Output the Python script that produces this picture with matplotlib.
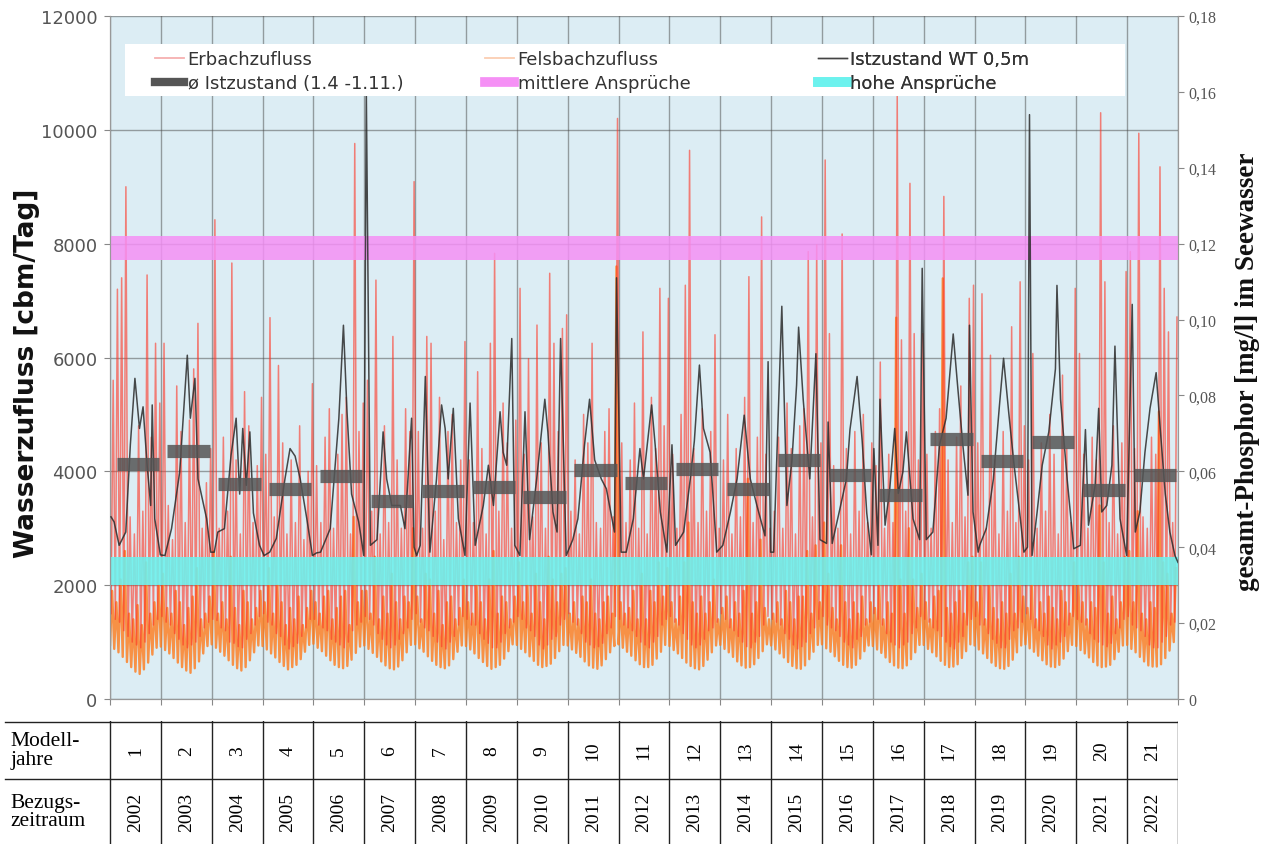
import numpy as np
import matplotlib
matplotlib.use('Agg')
import matplotlib.pyplot as plt
from matplotlib.lines import Line2D
from matplotlib.patches import Rectangle
from matplotlib.ticker import FuncFormatter, MultipleLocator

# model years and reference years
model_years = list(range(1, 22))
ref_years = list(range(2002, 2023))

# Erbach inflow [cbm/Tag], monthly troughs and peaks per year
erbach_lows = [
    [1500, 1400, 1350, 1200, 1100, 1000, 950, 900, 1000, 1150, 1300, 1400],
    [1450, 1350, 1300, 1150, 1050, 950, 900, 950, 1000, 1100, 1250, 1350],
    [1400, 1380, 1250, 1200, 1000, 980, 920, 900, 1050, 1150, 1300, 1450],
    [1500, 1350, 1300, 1150, 1100, 950, 880, 920, 980, 1100, 1250, 1400],
    [1400, 1300, 1250, 1200, 1050, 1000, 950, 900, 1000, 1200, 1300, 1350],
    [1450, 1400, 1300, 1150, 1050, 950, 900, 950, 1050, 1150, 1250, 1400],
    [1500, 1350, 1250, 1200, 1100, 1000, 920, 880, 1000, 1100, 1300, 1450],
    [1400, 1300, 1300, 1150, 1050, 980, 900, 900, 1000, 1150, 1250, 1350],
    [1450, 1400, 1250, 1200, 1100, 950, 880, 950, 1050, 1100, 1300, 1400],
    [1500, 1350, 1300, 1150, 1000, 950, 900, 920, 980, 1150, 1250, 1450],
    [1400, 1300, 1250, 1200, 1100, 1000, 950, 900, 1000, 1100, 1300, 1400],
    [1450, 1350, 1300, 1150, 1050, 950, 900, 950, 1050, 1200, 1250, 1350],
    [1500, 1400, 1250, 1200, 1100, 1000, 920, 900, 1000, 1100, 1300, 1450],
    [1400, 1350, 1300, 1150, 1050, 950, 880, 920, 1000, 1150, 1250, 1400],
    [1450, 1300, 1250, 1200, 1100, 1000, 950, 900, 1050, 1100, 1300, 1350],
    [1500, 1400, 1300, 1150, 1000, 950, 900, 950, 1000, 1150, 1250, 1450],
    [1400, 1350, 1250, 1200, 1100, 1000, 920, 880, 1000, 1100, 1300, 1400],
    [1450, 1300, 1300, 1150, 1050, 980, 900, 900, 1050, 1200, 1250, 1350],
    [1500, 1400, 1250, 1200, 1100, 950, 880, 950, 1000, 1100, 1300, 1450],
    [1400, 1350, 1300, 1150, 1050, 1000, 950, 920, 980, 1150, 1250, 1400],
    [1450, 1300, 1250, 1200, 1100, 950, 900, 900, 1000, 1100, 1300, 1350],
]
erbach_peaks = [
    [5600, 7200, 7400, 9000, 3200, 2900, 4800, 3300, 7450, 4600, 6250, 5200],
    [6250, 3400, 2800, 5500, 4700, 3100, 4900, 5800, 6600, 3000, 3800, 4400],
    [8420, 3000, 4600, 3300, 7660, 4200, 2900, 5400, 4800, 3100, 4100, 5300],
    [4300, 6700, 3200, 5860, 4500, 2900, 4200, 3100, 4800, 2800, 4000, 5540],
    [4100, 3100, 4600, 5100, 3000, 4300, 5000, 5300, 2900, 9760, 4700, 5200],
    [5600, 3300, 7360, 2900, 4800, 3100, 6370, 4200, 3000, 5100, 4700, 9090],
    [4700, 3000, 6370, 6250, 3300, 5300, 2800, 4700, 5000, 3100, 4200, 6280],
    [4200, 3100, 5750, 4400, 2900, 6250, 7830, 3300, 5200, 4500, 3000, 4900],
    [7215, 4300, 5980, 3200, 6570, 4500, 3000, 7480, 6250, 4700, 6510, 6750],
    [3300, 4200, 2900, 5000, 4500, 6250, 3100, 3000, 4700, 5100, 3200, 10200],
    [4500, 3100, 4200, 5200, 3000, 6450, 2900, 5300, 4400, 7215, 4800, 7040],
    [4300, 3000, 5000, 7270, 9640, 4400, 3100, 5100, 3300, 4700, 6400, 3000],
    [4200, 5000, 2900, 4400, 3200, 5300, 7420, 3100, 4600, 8470, 4300, 3000],
    [3300, 4600, 3000, 5200, 4400, 2900, 4800, 5100, 7860, 3200, 7980, 4500],
    [9470, 6420, 4100, 3000, 8170, 4400, 2900, 4700, 3300, 5000, 3100, 4500],
    [4100, 5920, 3000, 4300, 3100, 10610, 6310, 3300, 9060, 6420, 4200, 6420],
    [4300, 3000, 4700, 5100, 8830, 4200, 3100, 4600, 5500, 3200, 7040, 7270],
    [4500, 7120, 3000, 6040, 4200, 2900, 4700, 3300, 6540, 3100, 7330, 4800],
    [4200, 6070, 3000, 4500, 3300, 5000, 4300, 2900, 5690, 4400, 3100, 7215],
    [6070, 4300, 3000, 4600, 4200, 10300, 7330, 3100, 4800, 2900, 4500, 7510],
    [7860, 4400, 9940, 3200, 3000, 4600, 4300, 9350, 7215, 6450, 3100, 6710],
]

# Felsbach inflow [cbm/Tag], monthly troughs and peaks per year
felsbach_lows = [
    [950, 880, 820, 740, 650, 560, 480, 440, 520, 640, 780, 900],
    [920, 860, 800, 720, 640, 560, 500, 460, 540, 660, 800, 930],
    [960, 900, 830, 760, 680, 600, 540, 500, 560, 680, 820, 940],
    [930, 870, 800, 730, 650, 580, 520, 560, 600, 700, 830, 950],
    [970, 900, 840, 760, 680, 600, 560, 540, 580, 690, 810, 920],
    [940, 880, 810, 740, 660, 590, 540, 520, 570, 680, 820, 950],
    [960, 890, 830, 750, 670, 600, 560, 540, 590, 700, 830, 940],
    [930, 870, 800, 720, 650, 580, 530, 560, 600, 710, 840, 960],
    [950, 880, 820, 750, 670, 600, 560, 580, 620, 720, 840, 950],
    [940, 870, 810, 740, 660, 590, 550, 530, 590, 700, 820, 930],
    [960, 900, 830, 760, 680, 610, 560, 560, 600, 710, 830, 950],
    [930, 860, 800, 720, 640, 580, 540, 520, 580, 690, 820, 940],
    [950, 880, 820, 740, 660, 590, 550, 560, 610, 720, 840, 960],
    [940, 870, 800, 730, 650, 580, 540, 530, 590, 700, 830, 950],
    [960, 890, 830, 750, 670, 600, 560, 550, 600, 710, 840, 940],
    [930, 870, 810, 730, 650, 590, 550, 540, 590, 700, 820, 950],
    [950, 880, 820, 750, 670, 600, 560, 570, 610, 720, 840, 960],
    [940, 870, 800, 720, 640, 580, 540, 530, 580, 690, 820, 940],
    [960, 890, 830, 760, 680, 610, 570, 560, 600, 710, 840, 950],
    [930, 860, 800, 730, 650, 590, 560, 570, 600, 700, 830, 940],
    [950, 880, 820, 740, 660, 590, 570, 570, 610, 720, 850, 1000],
]
felsbach_peaks = [
    [1900, 1700, 2100, 2600, 1500, 1400, 1650, 1300, 2400, 1500, 1700, 2000],
    [2200, 1600, 1500, 1900, 1700, 1300, 1600, 1800, 2300, 1400, 1500, 1800],
    [2600, 1500, 1700, 1400, 2500, 1600, 1300, 1900, 1700, 1400, 1600, 1900],
    [1700, 2300, 1500, 2000, 1700, 1300, 1600, 1400, 1800, 1300, 1600, 1900],
    [1700, 1500, 1800, 1900, 1400, 1600, 1800, 1900, 1300, 3200, 1700, 1900],
    [1900, 1500, 2500, 1400, 1800, 1500, 2200, 1700, 1400, 1800, 1700, 3000],
    [1800, 1400, 2200, 2100, 1500, 1900, 1300, 1700, 1800, 1400, 1600, 2100],
    [1700, 1500, 2000, 1700, 1400, 2100, 2600, 1500, 1800, 1700, 1400, 1800],
    [2400, 1700, 2000, 1500, 2200, 1700, 1400, 2500, 2100, 1700, 2200, 2300],
    [1500, 1700, 1400, 1800, 1700, 2100, 1500, 1400, 1700, 1800, 1500, 7600],
    [1700, 1500, 1600, 1900, 1400, 2200, 1400, 1900, 1700, 2400, 1800, 2300],
    [1700, 1400, 1800, 2400, 3100, 1700, 1500, 1800, 1500, 1700, 2100, 1400],
    [1600, 1800, 1400, 1700, 1500, 1900, 3870, 1500, 1700, 2800, 1600, 1400],
    [1500, 1700, 1400, 1900, 1700, 1400, 1800, 1800, 2600, 1500, 2700, 1700],
    [3100, 2200, 1600, 1400, 2700, 1700, 1400, 1700, 1500, 1800, 1400, 1700],
    [1600, 2000, 1400, 1700, 1500, 6700, 2100, 1500, 3000, 2100, 1600, 2200],
    [1700, 1400, 1800, 1900, 7390, 1600, 1500, 1700, 1900, 1500, 2400, 2500],
    [1700, 2400, 1400, 2000, 1600, 1400, 1700, 1500, 2200, 1500, 2500, 1800],
    [1600, 2000, 1400, 1700, 1500, 1800, 1600, 1400, 1900, 1700, 1500, 2400],
    [2000, 1700, 1400, 1700, 1600, 3400, 2400, 1500, 1800, 1400, 1700, 2500],
    [2600, 1700, 3300, 1500, 1400, 1700, 1600, 5050, 2400, 2200, 1500, 2300],
]

# Istzustand WT 0,5m [mg/l]: (fraction of model year, value) per year
istzustand = [
    [(0.02, 0.048), (0.08, 0.0467), (0.18, 0.0405), (0.31, 0.044), (0.40, 0.067), (0.49, 0.0845),
     (0.58, 0.0713), (0.65, 0.077), (0.73, 0.0616), (0.80, 0.051), (0.83, 0.0775), (0.88, 0.0475), (0.99, 0.038)],
    [(0.08, 0.0378), (0.21, 0.0449), (0.37, 0.0598), (0.52, 0.0906), (0.58, 0.074), (0.67, 0.0845),
     (0.73, 0.058), (0.90, 0.0475), (0.98, 0.0387)],
    [(0.05, 0.0387), (0.12, 0.044), (0.25, 0.0449), (0.38, 0.0642), (0.48, 0.074), (0.55, 0.054),
     (0.61, 0.0713), (0.68, 0.0563), (0.75, 0.0704), (0.82, 0.049), (0.94, 0.0405)],
    [(0.03, 0.0378), (0.14, 0.0387), (0.27, 0.0423), (0.44, 0.058), (0.54, 0.066), (0.64, 0.064),
     (0.74, 0.058), (0.87, 0.0475), (0.98, 0.0378)],
    [(0.06, 0.0385), (0.14, 0.0387), (0.33, 0.0449), (0.50, 0.074), (0.59, 0.0985), (0.66, 0.0757),
     (0.75, 0.054), (0.89, 0.0467), (0.99, 0.0378)],
    [(0.04, 0.16), (0.12, 0.0405), (0.25, 0.042), (0.37, 0.0704), (0.44, 0.058), (0.54, 0.051),
     (0.71, 0.051), (0.80, 0.0449), (0.93, 0.074), (0.98, 0.040)],
    [(0.03, 0.0378), (0.10, 0.0405), (0.20, 0.085), (0.29, 0.0387), (0.42, 0.058), (0.52, 0.0775),
     (0.59, 0.0713), (0.65, 0.058), (0.75, 0.0766), (0.85, 0.0475), (0.98, 0.0378)],
    [(0.08, 0.078), (0.18, 0.0405), (0.34, 0.051), (0.44, 0.0616), (0.54, 0.051), (0.67, 0.0757),
     (0.73, 0.065), (0.80, 0.0616), (0.90, 0.095), (0.96, 0.0405)],
    [(0.06, 0.0378), (0.16, 0.0757), (0.25, 0.042), (0.39, 0.058), (0.55, 0.079), (0.61, 0.0704),
     (0.71, 0.0493), (0.79, 0.044), (0.86, 0.095), (0.97, 0.0378)],
    [(0.10, 0.042), (0.20, 0.0475), (0.33, 0.0669), (0.43, 0.079), (0.53, 0.063), (0.66, 0.058),
     (0.76, 0.0554), (0.92, 0.044), (0.96, 0.111)],
    [(0.05, 0.0387), (0.15, 0.0387), (0.29, 0.0475), (0.42, 0.066), (0.49, 0.058), (0.65, 0.0775),
     (0.72, 0.0669), (0.82, 0.0493), (0.95, 0.0387)],
    [(0.05, 0.067), (0.12, 0.0405), (0.28, 0.044), (0.41, 0.058), (0.49, 0.068), (0.59, 0.088),
     (0.67, 0.0713), (0.80, 0.065), (0.93, 0.0387)],
    [(0.05, 0.0405), (0.20, 0.0493), (0.33, 0.058), (0.47, 0.0748), (0.59, 0.058), (0.72, 0.051),
     (0.88, 0.043), (0.94, 0.0889), (0.99, 0.0387)],
    [(0.05, 0.0387), (0.21, 0.1035), (0.31, 0.051), (0.41, 0.063), (0.50, 0.0827), (0.54, 0.098),
     (0.63, 0.079), (0.76, 0.058), (0.88, 0.091), (0.96, 0.042)],
    [(0.09, 0.041), (0.12, 0.073), (0.20, 0.041), (0.35, 0.050), (0.48, 0.058), (0.55, 0.071),
     (0.69, 0.085), (0.79, 0.068), (0.88, 0.049), (0.97, 0.038)],
    [(0.02, 0.066), (0.10, 0.0405), (0.14, 0.079), (0.24, 0.0458), (0.33, 0.055), (0.43, 0.0713),
     (0.50, 0.0542), (0.59, 0.0598), (0.66, 0.0704), (0.79, 0.0475), (0.92, 0.042), (0.97, 0.1135)],
    [(0.05, 0.042), (0.18, 0.044), (0.31, 0.0669), (0.44, 0.074), (0.58, 0.0962), (0.67, 0.082),
     (0.77, 0.0669), (0.87, 0.0537), (0.90, 0.0985), (0.97, 0.0493)],
    [(0.07, 0.0387), (0.10, 0.0405), (0.23, 0.0449), (0.37, 0.058), (0.49, 0.0775), (0.57, 0.0898),
     (0.67, 0.0757), (0.77, 0.0625), (0.90, 0.0475), (0.97, 0.0387)],
    [(0.04, 0.040), (0.08, 0.154), (0.13, 0.0378), (0.23, 0.0493), (0.33, 0.0616), (0.46, 0.0704),
     (0.59, 0.087), (0.62, 0.109), (0.69, 0.079), (0.82, 0.058), (0.95, 0.0396)],
    [(0.08, 0.0405), (0.18, 0.071), (0.24, 0.0458), (0.37, 0.0563), (0.44, 0.0766), (0.50, 0.0493),
     (0.60, 0.051), (0.70, 0.0616), (0.76, 0.093), (0.86, 0.0475), (0.99, 0.0378)],
    [(0.10, 0.104), (0.16, 0.044), (0.25, 0.0493), (0.35, 0.065), (0.45, 0.0766), (0.57, 0.086),
     (0.65, 0.0713), (0.75, 0.054), (0.84, 0.044), (0.94, 0.0378), (1.0, 0.036)],
]

# mean Istzustand 1.4.-1.11. [mg/l]
ist_mean = [0.062, 0.0653, 0.0566, 0.0554, 0.0588, 0.0523, 0.0547, 0.0559, 0.0532, 0.0603, 0.057,
            0.0605, 0.0554, 0.0629, 0.059, 0.0537, 0.0686, 0.0626, 0.0677, 0.055, 0.059]
mean_period = (0.13, 0.96)

# demand bands [cbm/Tag]
mittlere = (7720, 8130)
hohe = (2000, 2500)

n = len(model_years)
yr = np.arange(n)[:, None]
mo = np.arange(12)[None, :] / 12.0

t_erb = np.stack([yr + mo + 1 / 48, yr + mo + 3 / 48], axis=-1).reshape(-1)
v_erb = np.stack([np.array(erbach_lows), np.array(erbach_peaks)], axis=-1).reshape(-1)
t_fel = np.stack([yr + mo, yr + mo + 2 / 48], axis=-1).reshape(-1)
v_fel = np.stack([np.array(felsbach_lows), np.array(felsbach_peaks)], axis=-1).reshape(-1)

t_ist = [i + f for i, pts in enumerate(istzustand) for f, v in pts]
v_ist = [v for pts in istzustand for f, v in pts]

fig = plt.figure(figsize=(12.64, 8.45), dpi=100)
ax = fig.add_axes([110 / 1264, 1 - 700 / 845, 1068 / 1264, 683 / 845])
ax.set_facecolor('#dcedf4')

ax.plot(t_fel, v_fel, color='#ff7a1a', lw=1.7, alpha=0.8, zorder=2)
ax.plot(t_erb, v_erb, color='#ff3322', lw=1.1, alpha=0.6, zorder=3)
ax.axhspan(mittlere[0], mittlere[1], color='#f590f5', alpha=0.85, lw=0, zorder=4)
ax.axhspan(hohe[0], hohe[1], color='#6cf2ee', alpha=0.88, lw=0, zorder=4)

ax.set_xlim(0, n)
ax.set_ylim(0, 12000)
ax.xaxis.set_major_locator(MultipleLocator(1))
ax.yaxis.set_major_locator(MultipleLocator(2000))
ax.set_xticklabels([])
ax.grid(True, color='#4a4a4a', lw=1, alpha=0.5)
ax.set_axisbelow(True)
ax.tick_params(axis='x', length=4, color='#888')
ax.tick_params(axis='y', length=4, color='#888', labelsize=13, labelcolor='#555', pad=5)
for s in ax.spines.values():
    s.set_color('#999')
ax.spines['top'].set_visible(False)
fig.text(27 / 1264, 1 - 373 / 845, 'Wasserzufluss [cbm/Tag]', rotation=90, ha='center', va='center',
         fontsize=19, fontweight='bold', color='#111')

ax2 = ax.twinx()
ax2.plot(t_ist, v_ist, color='#2b2b2b', lw=1.1, alpha=0.85, zorder=5)
ax2.hlines(ist_mean, np.arange(n) + mean_period[0], np.arange(n) + mean_period[1],
           color='#555555', lw=9.5, alpha=0.85, zorder=6)
ax2.set_ylim(0, 0.18)
ax2.yaxis.set_major_locator(MultipleLocator(0.02))
ax2.yaxis.set_major_formatter(FuncFormatter(lambda v, p: '0' if abs(v) < 1e-9 else f'{v:.2f}'.replace('.', ',')))
ax2.tick_params(axis='y', length=4, color='#888', labelsize=11.5, labelcolor='#555')
for lab in ax2.get_yticklabels():
    lab.set_family('Liberation Serif')
for s in ax2.spines.values():
    s.set_color('#999')
ax2.spines['top'].set_visible(False)
fig.text(1248 / 1264, 1 - 372 / 845, 'gesamt-Phosphor [mg/l] im Seewasser', rotation=90,
         ha='center', va='center', fontsize=19.5, fontweight='bold', family='Liberation Serif', color='#111')

# legend: white box with three columns
ax2.add_patch(Rectangle((15 / 1068, 603 / 683), 1000 / 1068, 52 / 683, transform=ax2.transAxes,
                        facecolor='white', edgecolor='none', zorder=9))
columns = [
    ([Line2D([], [], color='#f6b0b0', lw=1.3), Line2D([], [], color='#555555', lw=6)],
     ['Erbachzufluss', 'ø Istzustand (1.4 -1.11.)'], 155),
    ([Line2D([], [], color='#fbceb2', lw=1.3), Line2D([], [], color='#f590f5', lw=7)],
     ['Felsbachzufluss', 'mittlere Ansprüche'], 485),
    ([Line2D([], [], color='#444444', lw=1.0), Line2D([], [], color='#6cf2ee', lw=7)],
     ['Istzustand WT 0,5m', 'hohe Ansprüche'], 818),
]
for hs, ls, xpx in columns:
    lg = ax2.legend(hs, ls, loc='upper left', bbox_to_anchor=((xpx - 110) / 1068, (700 - 51) / 683),
                    borderaxespad=0, borderpad=0, frameon=False, fontsize=13, handlelength=1.6,
                    handletextpad=0.2, labelspacing=0.35)
    lg.set_zorder(10)
    for txt in lg.get_texts():
        txt.set_color('#333')
    ax2.add_artist(lg)

# table below the chart
axt = fig.add_axes([0, 0, 1178 / 1264, 123 / 845])
axt.set_xlim(-110 / 50.857, n)
axt.set_ylim(0, 1)
axt.axis('off')
mid = 65 / 123
x0 = -105 / 50.857
axt.plot([x0, n], [0.995, 0.995], color='#222', lw=1)
axt.plot([x0, n], [mid, mid], color='#222', lw=1)
for i in range(n + 1):
    axt.plot([i, i], [0, 1], color='#222', lw=1)
serif = 'Liberation Serif'
axt.text(x0 + 0.1, (1 + mid) / 2, 'Modell-\njahre', family=serif, fontsize=15.5,
         va='center', ha='left', linespacing=0.95)
axt.text(x0 + 0.1, mid / 2, 'Bezugs-\nzeitraum', family=serif, fontsize=15.5,
         va='center', ha='left', linespacing=0.95)
for i in range(n):
    axt.text(i + 0.5, (1 + mid) / 2, str(model_years[i]), family=serif, fontsize=14,
             rotation=90, ha='center', va='center')
    axt.text(i + 0.5, mid / 2, str(ref_years[i]), family=serif, fontsize=14,
             rotation=90, ha='center', va='center')

fig.savefig('out.png', dpi=100)
